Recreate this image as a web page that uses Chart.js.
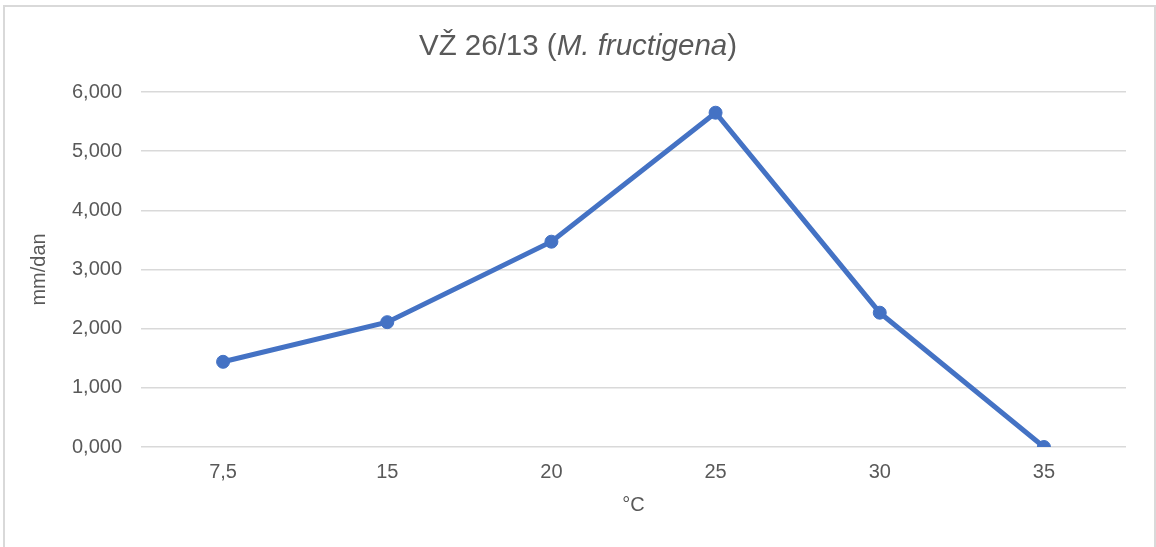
<!DOCTYPE html>
<html>
<head>
<meta charset="utf-8">
<script src="https://cdn.jsdelivr.net/npm/chart.js@4"></script>
<style>
    html, body { margin: 0; padding: 0; background: #ffffff; }
    #wrap { position: relative; width: 1156px; height: 547px; overflow: hidden; }
    #frame {
        position: absolute; left: 3px; top: 5px; right: 0; bottom: -10px;
        border: 2px solid #d9d9d9;
    }
    #title {
        position: absolute; left: 0; right: 0; top: 28px;
        text-align: center; color: #595959;
        font-family: 'Liberation Sans', Arial, sans-serif; font-size: 29.5px;
    }
    canvas { position: absolute; left: 0; top: 0; }
</style>
</head>
<body>
<div id="wrap">
    <div id="frame"></div>
    <canvas id="growthChart" width="1156" height="547"></canvas>
    <div id="title">VŽ 26/13 (<i>M. fructigena</i>)</div>
</div>
<script>
// Temperature steps and daily growth (mm/dan)
const temperatures = ['7,5', '15', '20', '25', '30', '35'];
const growthRate = [1.44, 2.11, 3.47, 5.65, 2.27, 0.0];
const yMax = 6;
const yStep = 1;

Chart.defaults.font.family = "'Liberation Sans', Arial, sans-serif";
Chart.defaults.color = '#595959';

const fmtComma = v => v.toFixed(3).replace('.', ',');

new Chart(document.getElementById('growthChart'), {
    type: 'line',
    data: {
        labels: temperatures,
        datasets: [{
            label: 'mm/dan',
            data: growthRate,
            borderColor: '#4472C4',
            backgroundColor: '#4472C4',
            borderWidth: 5,
            pointRadius: 6.5,
            pointBorderWidth: 1,
            pointBackgroundColor: '#4472C4',
            tension: 0,
            fill: false
        }]
    },
    options: {
        responsive: false,
        animation: false,
        layout: { padding: { top: 92, right: 30, bottom: 0, left: 0 } },
        plugins: {
            legend: { display: false },
            tooltip: { enabled: false }
        },
        scales: {
            x: {
                offset: true,
                grid: { display: false },
                border: { display: false },
                ticks: { padding: 5, font: { size: 20 } },
                title: {
                    display: true, text: '°C',
                    font: { size: 20 }, padding: { top: 0, bottom: 30 }
                },
                afterFit: scale => { scale.height = 100; }
            },
            y: {
                min: 0,
                max: yMax,
                grid: { color: '#d9d9d9', lineWidth: 1.5, drawTicks: false },
                border: { display: false },
                ticks: {
                    stepSize: yStep, padding: 19, font: { size: 20 },
                    callback: v => fmtComma(v)
                },
                title: {
                    display: true, text: 'mm/dan',
                    font: { size: 20 }, padding: { top: 27, bottom: 0 }
                },
                afterFit: scale => { scale.width = 141; }
            }
        }
    }
});
</script>
</body>
</html>
